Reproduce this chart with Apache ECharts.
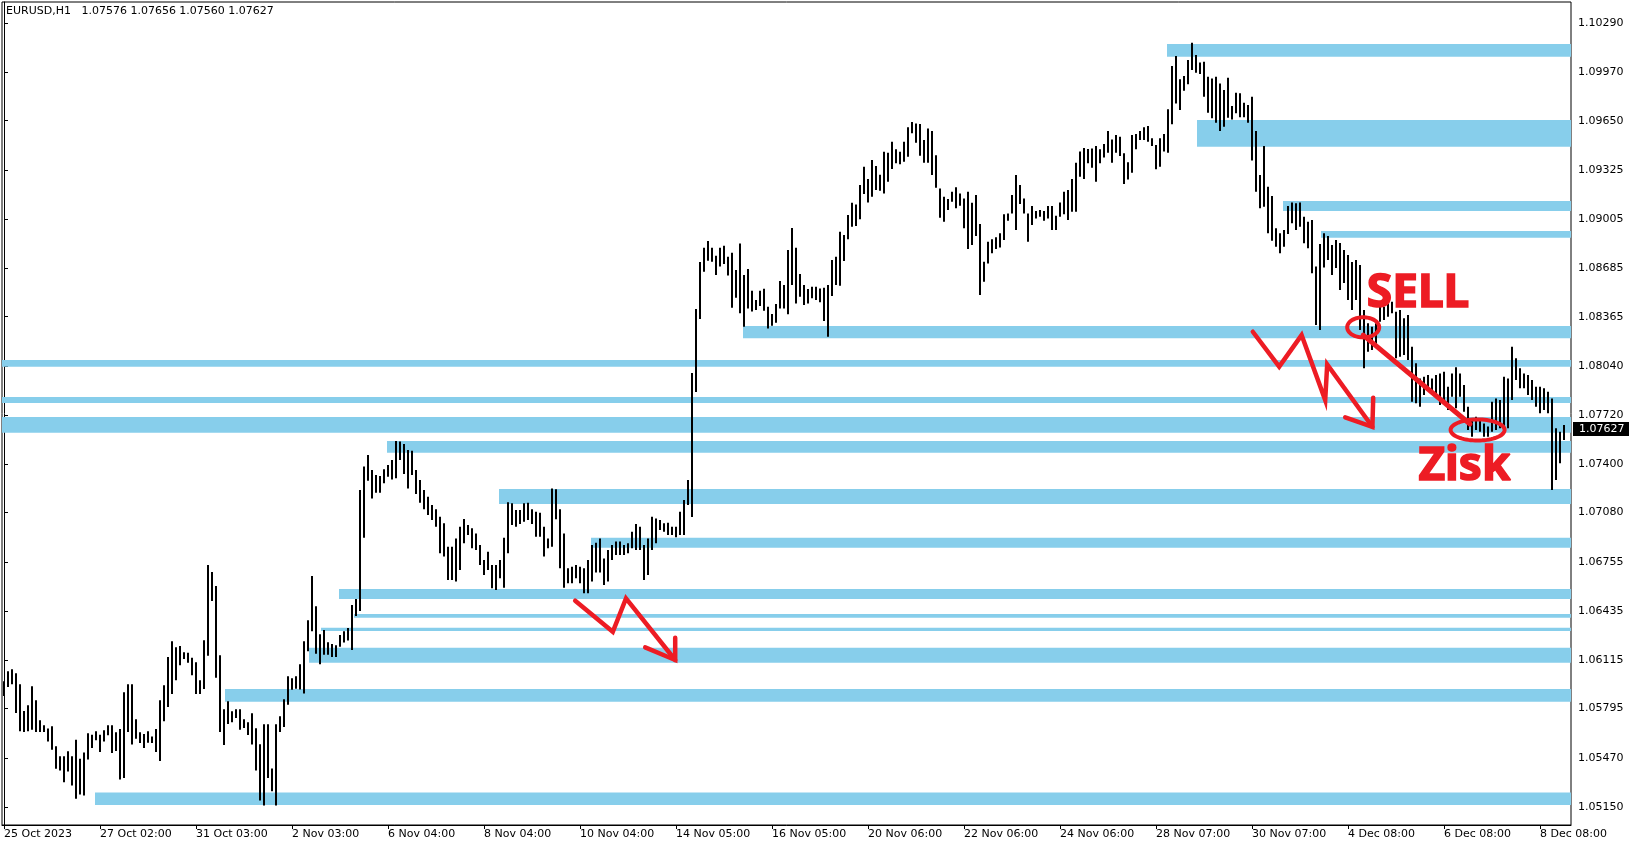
<!DOCTYPE html>
<html><head><meta charset="utf-8">
<script src="https://cdn.jsdelivr.net/npm/echarts@6/dist/echarts.min.js"></script>
<style>html,body{margin:0;padding:0;background:#fff}#c{width:1635px;height:850px}</style>
</head><body><div id="c"></div>
<script>
const symbolTitle = 'EURUSD,H1';
const lastBar = ['1.07576', '1.07656', '1.07560', '1.07627'];
const lastPrice = 1.07627;

const lows = [
1.05878,1.05937,1.05955,1.05767,1.05646,1.05642,1.05646,1.05657,1.05642,1.05642,
1.05642,1.05580,1.05526,1.05401,1.05390,1.05313,1.05383,1.05291,1.05204,1.05232,
1.05226,1.05462,1.05537,1.05587,1.05510,1.05580,1.05620,1.05504,1.05517,1.05331,
1.05340,1.05642,1.05559,1.05598,1.05569,1.05537,1.05571,1.05569,1.05510,1.05451,
1.05712,1.05806,1.05891,1.05981,1.06080,1.06121,1.06095,1.06014,1.05891,1.05891,
1.05924,1.06141,1.06500,1.05997,1.05642,1.05556,1.05694,1.05705,1.05734,1.05657,
1.05668,1.05622,1.05559,1.05390,1.05193,1.05160,1.05340,1.05254,1.05160,1.05642,
1.05675,1.05821,1.05918,1.05926,1.05920,1.05894,1.06172,1.06303,1.06154,1.06086,
1.06148,1.06148,1.06134,1.06134,1.06200,1.06229,1.06242,1.06180,1.06402,1.06435,
1.06916,1.07289,1.07173,1.07211,1.07211,1.07272,1.07316,1.07298,1.07305,1.07425,
1.07333,1.07239,1.07327,1.07202,1.07145,1.07102,1.07065,1.07032,1.06988,1.06813,
1.06792,1.06639,1.06639,1.06628,1.06704,1.06879,1.06933,1.06846,1.06835,1.06736,
1.06671,1.06704,1.06584,1.06573,1.06649,1.06588,1.06813,1.06999,1.06988,1.07006,
1.07021,1.07032,1.07006,1.06922,1.06922,1.06792,1.06846,1.06857,1.07036,1.06715,
1.06588,1.06617,1.06617,1.06649,1.06617,1.06551,1.06551,1.06628,1.06687,1.06687,
1.06606,1.06628,1.06769,1.06803,1.06803,1.06803,1.06813,1.06846,1.06835,1.06835,
1.06639,1.06671,1.06835,1.06879,1.06966,1.06955,1.06933,1.06933,1.06918,1.06933,
1.06933,1.07130,1.07051,1.07871,1.08349,1.08660,1.08732,1.08725,1.08638,1.08693,
1.08710,1.08634,1.08424,1.08489,1.08387,1.08299,1.08419,1.08398,1.08409,1.08435,
1.08404,1.08288,1.08306,1.08325,1.08419,1.08419,1.08380,1.08572,1.08452,1.08496,
1.08441,1.08452,1.08485,1.08474,1.08459,1.08336,1.08234,1.08500,1.08572,1.08568,
1.08730,1.08872,1.08955,1.08959,1.09003,1.09169,1.09114,1.09151,1.09195,1.09191,
1.09173,1.09250,1.09333,1.09370,1.09365,1.09381,1.09414,1.09567,1.09505,1.09420,
1.09374,1.09374,1.09293,1.09210,1.09014,1.08987,1.09064,1.09119,1.09075,1.09092,
1.08944,1.08808,1.08835,1.08894,1.08507,1.08594,1.08714,1.08780,1.08808,1.08819,
1.08867,1.08994,1.09042,1.08933,1.09103,1.09042,1.08856,1.08966,1.09009,1.09020,
1.08994,1.09009,1.08933,1.08933,1.09020,1.09036,1.08999,1.09053,1.09053,1.09283,
1.09267,1.09370,1.09342,1.09250,1.09370,1.09409,1.09440,1.09374,1.09440,1.09418,
1.09235,1.09265,1.09309,1.09462,1.09523,1.09523,1.09512,1.09484,1.09331,1.09348,
1.09447,1.09440,1.09626,1.09763,1.09720,1.09846,1.09888,1.09982,1.09964,1.09956,
1.09807,1.09702,1.09665,1.09637,1.09582,1.09610,1.09669,1.09658,1.09698,1.09672,
1.09672,1.09637,1.09388,1.09184,1.09075,1.09086,1.08911,1.08863,1.08824,1.08780,
1.08824,1.08907,1.08977,1.08933,1.08955,1.08846,1.08813,1.08649,1.08310,1.08278,
1.08688,1.08736,1.08638,1.08684,1.08539,1.08585,1.08474,1.08408,1.08474,1.08277,
1.08026,1.08135,1.08146,1.08168,1.08332,1.08343,1.08365,1.08387,1.08092,1.08102,
1.08113,1.08081,1.07807,1.07797,1.07775,1.07851,1.07884,1.07851,1.07851,1.07786,
1.07818,1.07753,1.07840,1.07764,1.07840,1.07742,1.07622,1.07578,1.07622,1.07611,
1.07578,1.07578,1.07611,1.07622,1.07633,1.07644,1.07633,1.07818,1.07950,1.07895,
1.07895,1.07851,1.07818,1.07775,1.07731,1.07753,1.07731,1.07228,1.07294,1.07403,1.07556
];

const highs = [
1.05975,1.06040,1.06053,1.06027,1.05955,1.05780,1.05817,1.05942,1.05850,1.05718,
1.05686,1.05664,1.05679,1.05548,1.05482,1.05482,1.05515,1.05482,1.05591,1.05467,
1.05508,1.05633,1.05624,1.05646,1.05624,1.05653,1.05686,1.05686,1.05640,1.05661,
1.05902,1.05955,1.05955,1.05725,1.05640,1.05629,1.05646,1.05613,1.05661,1.05850,
1.05948,1.06134,1.06237,1.06198,1.06205,1.06165,1.06161,1.06128,1.06099,1.05981,
1.06244,1.06737,1.06691,1.06599,1.06145,1.05791,1.05843,1.05778,1.05791,1.05791,
1.05725,1.05705,1.05764,1.05666,1.05561,1.05692,1.05692,1.05403,1.05692,1.05745,
1.05856,1.06007,1.05994,1.06007,1.06086,1.06237,1.06375,1.06664,1.06467,1.06283,
1.06310,1.06231,1.06218,1.06211,1.06277,1.06303,1.06323,1.06474,1.06513,1.07228,
1.07382,1.07458,1.07360,1.07327,1.07320,1.07365,1.07393,1.07425,1.07550,1.07546,
1.07530,1.07491,1.07486,1.07360,1.07294,1.07228,1.07184,1.07130,1.07102,1.07053,
1.07010,1.06857,1.06857,1.06911,1.06988,1.07038,1.06999,1.06977,1.06944,1.06868,
1.06769,1.06824,1.06736,1.06736,1.06769,1.06916,1.07148,1.07141,1.07097,1.07097,
1.07141,1.07145,1.07102,1.07086,1.07080,1.06988,1.06911,1.07239,1.07233,1.07102,
1.06944,1.06715,1.06726,1.06736,1.06726,1.06715,1.06769,1.06868,1.06883,1.06911,
1.06780,1.06835,1.06868,1.06890,1.06890,1.06868,1.06879,1.06955,1.07006,1.06988,
1.06868,1.06911,1.07053,1.07042,1.07032,1.07010,1.07014,1.06988,1.06988,1.07086,
1.07163,1.07294,1.07995,1.08415,1.08723,1.08817,1.08861,1.08817,1.08765,1.08817,
1.08830,1.08758,1.08784,1.08671,1.08845,1.08638,1.08677,1.08535,1.08474,1.08535,
1.08548,1.08430,1.08382,1.08448,1.08599,1.08572,1.08802,1.08946,1.08817,1.08644,
1.08572,1.08546,1.08561,1.08561,1.08550,1.08555,1.08572,1.08736,1.08758,1.08922,
1.08900,1.09031,1.09112,1.09101,1.09228,1.09348,1.09267,1.09392,1.09352,1.09296,
1.09446,1.09440,1.09512,1.09462,1.09446,1.09512,1.09606,1.09641,1.09632,1.09628,
1.09523,1.09599,1.09582,1.09424,1.09206,1.09151,1.09136,1.09184,1.09213,1.09173,
1.09140,1.09184,1.09112,1.09162,1.08972,1.08725,1.08856,1.08872,1.08885,1.08911,
1.09036,1.09042,1.09162,1.09293,1.09228,1.09140,1.09042,1.09090,1.09057,1.09064,
1.09057,1.09090,1.09091,1.09026,1.09113,1.09184,1.09195,1.09267,1.09374,1.09447,
1.09471,1.09464,1.09468,1.09484,1.09462,1.09497,1.09582,1.09527,1.09556,1.09545,
1.09436,1.09377,1.09556,1.09562,1.09582,1.09606,1.09615,1.09534,1.09490,1.09534,
1.09562,1.09724,1.10008,1.10074,1.09921,1.09943,1.10047,1.10161,1.10080,1.10032,
1.10036,1.09938,1.09927,1.09938,1.09894,1.09851,1.09932,1.09746,1.09833,1.09829,
1.09768,1.09752,1.09807,1.09582,1.09294,1.09484,1.09217,1.09156,1.08944,1.08911,
1.08933,1.09091,1.09114,1.09108,1.09113,1.09020,1.08988,1.08999,1.08693,1.08841,
1.08911,1.08894,1.08834,1.08867,1.08848,1.08802,1.08769,1.08723,1.08736,1.08703,
1.08408,1.08321,1.08299,1.08321,1.08430,1.08430,1.08452,1.08463,1.08397,1.08408,
1.08354,1.08376,1.08168,1.08059,1.07960,1.07971,1.07982,1.07960,1.07982,1.07993,
1.08004,1.07906,1.07993,1.08033,1.07993,1.07917,1.07775,1.07687,1.07709,1.07687,
1.07665,1.07644,1.07807,1.07829,1.07818,1.07971,1.07960,1.08168,1.08092,1.08026,
1.07993,1.07982,1.07950,1.07906,1.07906,1.07895,1.07873,1.07829,1.07633,1.07611,1.07655
];

const xTickIdx = [0, 24, 48, 72, 96, 120, 144, 168, 192, 216, 240, 264, 288, 312, 336, 360, 384];
const xTickLabels = ['25 Oct 2023', '27 Oct 02:00', '31 Oct 03:00', '2 Nov 03:00', '6 Nov 04:00',
  '8 Nov 04:00', '10 Nov 04:00', '14 Nov 05:00', '16 Nov 05:00', '20 Nov 06:00', '22 Nov 06:00',
  '24 Nov 06:00', '28 Nov 07:00', '30 Nov 07:00', '4 Dec 08:00', '6 Dec 08:00', '8 Dec 08:00'];
const yTickLabels = ['1.10290', '1.09970', '1.09650', '1.09325', '1.09005', '1.08685', '1.08365',
  '1.08040', '1.07720', '1.07400', '1.07080', '1.06755', '1.06435', '1.06115', '1.05795', '1.05470', '1.05150'];

// supply / demand zones: start bar (null = from left edge), upper and lower price
const zoneStart = [290.75, 298.25, 319.75, 329.25, 184.75, null, null, null, 95.75, 123.75, 146.75, 83.75, 87.5, 79.25, 76.25, 55.25, 22.75];
const zoneHigh  = [1.10152, 1.09654, 1.09123, 1.08926, 1.08303, 1.08081, 1.07838, 1.07707, 1.07550, 1.07235, 1.06916, 1.06579, 1.06415, 1.06326, 1.06194, 1.05924, 1.05245];
const zoneLow   = [1.10069, 1.09479, 1.09058, 1.08882, 1.08224, 1.08037, 1.07799, 1.07604, 1.07473, 1.07137, 1.06850, 1.06514, 1.06391, 1.06304, 1.06096, 1.05840, 1.05163];

// hand-drawn annotations in (bar, price)
const arrowA = [[142.8, 1.06503], [152.2, 1.06299], [155.5, 1.06518], [167.8, 1.06114]];
const arrowAHead = [[160.3, 1.06197], [167.8, 1.06114], [167.8, 1.06260]];
const arrowB = [[312.2, 1.08266], [318.8, 1.08037], [324.4, 1.08244], [330.3, 1.07818], [330.8, 1.08052], [342.1, 1.07643]];
const arrowBHead = [[335.3, 1.07705], [342.1, 1.07643], [342.3, 1.07833]];
const sellRing = [339.8, 1.08295, 4.0, 0.00066];
const ziskRing = [368.4, 1.07622, 6.75, 0.00069];
const linkLine = [[339.8, 1.08244], [366.5, 1.07661]];
const sellLabel = ['SELL', 340.7, 1.08515];
const ziskLabel = ['Zisk', 353.6, 1.07379];

const X_MIN = -0.5, X_MAX = 391.75, Y_MIN = 1.05032, Y_MAX = 1.10428;
const RED = '#ED1C24';
const ZONE = '#87CEEB';
const FONT = 'DejaVu Sans';

const chart = echarts.init(document.getElementById('c'), null, {renderer: 'canvas'});

const barData = highs.map((h, i) => [i, lows[i], h]);
const zoneData = zoneHigh.map((h, k) => [zoneStart[k] === null ? X_MIN : zoneStart[k], h, zoneLow[k]]);

function ringPoints(api, r) {
  const c = api.coord([r[0], r[1]]);
  const ex = api.coord([r[0] + r[2], r[1]]);
  const ey = api.coord([r[0], r[1] + r[3]]);
  const rx = Math.abs(ex[0] - c[0]), ry = Math.abs(c[1] - ey[1]);
  const pts = [];
  for (let k = 0; k < 72; k++) {
    const a = k / 72 * Math.PI * 2;
    pts.push([c[0] + rx * Math.cos(a), c[1] + ry * Math.sin(a)]);
  }
  return pts;
}

const option = {
  animation: false,
  backgroundColor: '#fff',
  title: {
    text: symbolTitle + '   ' + lastBar.join(' '),
    left: 6, top: 6, padding: 0,
    textStyle: {fontFamily: FONT, fontSize: 11, fontWeight: 'normal', color: '#000'}
  },
  grid: {left: 2, right: 64, top: 2, bottom: 25, show: true, borderColor: '#000', borderWidth: 1, backgroundColor: 'transparent'},
  xAxis: {
    type: 'value', min: X_MIN, max: X_MAX,
    axisLine: {show: true, lineStyle: {color: '#000'}},
    axisTick: {show: true, customValues: xTickIdx, length: 4, lineStyle: {color: '#000'}},
    axisLabel: {
      customValues: xTickIdx, align: 'left', margin: 4,
      fontFamily: FONT, fontSize: 11, color: '#000',
      formatter: v => { const k = xTickIdx.indexOf(Math.round(v)); return k >= 0 ? xTickLabels[k] : ''; }
    },
    splitLine: {show: false}
  },
  yAxis: {
    type: 'value', position: 'right', min: Y_MIN, max: Y_MAX,
    axisLine: {show: true, lineStyle: {color: '#000'}},
    axisTick: {show: true, customValues: yTickLabels.map(Number), length: 4, lineStyle: {color: '#000'}},
    axisLabel: {
      customValues: yTickLabels.map(Number), margin: 7,
      fontFamily: FONT, fontSize: 11, color: '#000',
      formatter: v => v.toFixed(5)
    },
    splitLine: {show: false}
  },
  series: [
    {
      type: 'custom', name: 'zones', z: 1, clip: true,
      data: zoneData,
      encode: {x: 0, y: [1, 2]},
      renderItem: (params, api) => {
        const p1 = api.coord([api.value(0), api.value(1)]);
        const p2 = api.coord([X_MAX, api.value(2)]);
        return {type: 'rect', shape: {x: p1[0], y: p1[1], width: p2[0] - p1[0], height: p2[1] - p1[1]}, style: {fill: ZONE}};
      }
    },
    {
      type: 'custom', name: 'bars', z: 2, clip: true,
      data: barData,
      encode: {x: 0, y: [1, 2]},
      renderItem: (params, api) => {
        const x = api.value(0);
        const lo = api.coord([x, api.value(1)]);
        const hi = api.coord([x, api.value(2)]);
        const cx = Math.round(lo[0]);
        return {type: 'rect', shape: {x: cx - 1, y: hi[1], width: 2, height: Math.max(1, lo[1] - hi[1])}, style: {fill: '#000'}};
      }
    },
    {
      type: 'custom', name: 'bid', z: 20, clip: false, silent: true,
      data: [[X_MAX, lastPrice]],
      encode: {x: 0, y: 1},
      renderItem: (params, api) => {
        const p = api.coord([api.value(0), api.value(1)]);
        const yc = Math.round(p[1]);
        return {
          type: 'group',
          children: [
            {type: 'rect', shape: {x: p[0] + 2, y: yc - 7, width: 56, height: 14}, style: {fill: '#000'}},
            {type: 'text', style: {text: lastPrice.toFixed(5), x: p[0] + 8, y: yc, fill: '#fff', fontFamily: FONT, fontSize: 11, align: 'left', verticalAlign: 'middle'}}
          ]
        };
      }
    },
    {
      type: 'custom', name: 'notes', z: 10, clip: false,
      data: [[0, lastPrice]],
      encode: {x: 0, y: 1},
      renderItem: (params, api) => {
        const pts = arr => arr.map(p => api.coord(p));
        const strokeStyle = w => ({stroke: RED, lineWidth: w, fill: null, lineJoin: 'miter', lineCap: 'round'});
        const sp = api.coord([sellLabel[1], sellLabel[2]]);
        const zp = api.coord([ziskLabel[1], ziskLabel[2]]);
        const txt = (s, p) => ({type: 'text', style: {text: s, x: p[0], y: p[1], fill: RED, stroke: RED, lineWidth: 1.6, fontFamily: 'Noto Sans', fontWeight: 'bold', fontSize: 46, align: 'left', verticalAlign: 'middle'}});
        return {
          type: 'group',
          children: [
            {type: 'polyline', shape: {points: pts(arrowA)}, style: strokeStyle(4.5)},
            {type: 'polyline', shape: {points: pts(arrowAHead)}, style: strokeStyle(4.5)},
            {type: 'polyline', shape: {points: pts(arrowB)}, style: strokeStyle(4.5)},
            {type: 'polyline', shape: {points: pts(arrowBHead)}, style: strokeStyle(4.5)},
            {type: 'polyline', shape: {points: pts(linkLine)}, style: strokeStyle(5)},
            {type: 'polygon', shape: {points: ringPoints(api, sellRing)}, style: {stroke: RED, lineWidth: 4, fill: null}},
            {type: 'polygon', shape: {points: ringPoints(api, ziskRing)}, style: {stroke: RED, lineWidth: 4, fill: null}},
            txt(sellLabel[0], sp),
            txt(ziskLabel[0], zp)
          ]
        };
      }
    }
  ]
};
chart.setOption(option);
</script>
</body></html>
